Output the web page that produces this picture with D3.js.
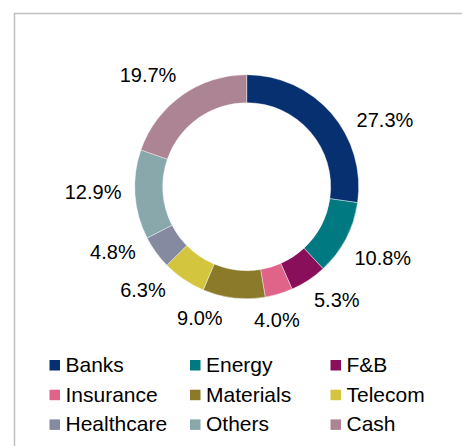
<!DOCTYPE html>
<html>
<head>
<meta charset="utf-8">
<script src="https://cdn.jsdelivr.net/npm/d3@7"></script>
<style>
html,body{margin:0;padding:0;background:#fff;}
svg{display:block;}
text{font-family:"Liberation Sans",Arial,sans-serif;fill:#000;}
</style>
</head>
<body>
<svg id="chart" width="462" height="446"></svg>
<script>
// ---- data ----
const categories = ["Banks","Energy","F&B","Insurance","Materials","Telecom","Healthcare","Others","Cash"];
const values = [27.3, 10.8, 5.3, 4.0, 9.0, 6.3, 4.8, 12.9, 19.7];
const colors = ["#073070","#007A80","#8A0F5A","#E0648A","#8A7A2A","#D4C53F","#868AA0","#88A8AC","#AC8494"];
// label angle adjustments (degrees) relative to slice middle
const labelShift = [15, 0, -5, 4, 13, 11, 10, 2, -6];

const W = 462, H = 446;
const cx = 246.7, cy = 186.7, rOuter = 112, rInner = 84;
const svg = d3.select("#chart");

// frame
svg.append("path")
  .attr("d", `M14.5,${H} V13.5 H${W}`)
  .attr("fill","none").attr("stroke","#c0c0c0").attr("stroke-width",1.5);

const pie = d3.pie().sort(null).value(d => d.v);
const data = categories.map((c,i)=>({c, v: values[i], col: colors[i], shift: labelShift[i]}));
const arcs = pie(data);
const arc = d3.arc().innerRadius(rInner).outerRadius(rOuter);

const g = svg.append("g").attr("transform", `translate(${cx},${cy})`);
g.selectAll("path.slice").data(arcs).enter().append("path")
  .attr("class","slice")
  .attr("d", arc)
  .attr("fill", d => d.data.col)
  .attr("stroke","#fff").attr("stroke-width",0.4);

// labels: placed outside with box-aware offset
const fmt = d3.format(".1f");
const labelR = 125;
const lbl = g.selectAll("text.lbl").data(arcs).enter().append("text")
  .attr("class","lbl")
  .attr("font-size", 20)
  .attr("text-anchor","middle")
  .text(d => fmt(d.data.v) + "%");
lbl.each(function(d){
  const bb = this.getBBox();
  const w = bb.width, h = 14.3;
  const a = (d.startAngle + d.endAngle)/2 + d.data.shift*Math.PI/180;
  const ux = Math.sin(a), uy = -Math.cos(a);
  const dist = labelR + Math.abs(ux)*w/2 + Math.abs(uy)*h/2;
  d3.select(this).attr("x", ux*dist).attr("y", uy*dist + h/2);
});

// legend
const legX = d3.scaleOrdinal().domain([0,1,2]).range([49.5, 190, 330.5]);
const legY = d3.scaleOrdinal().domain([0,1,2]).range([360, 389.7, 419.4]);
const leg = svg.append("g").selectAll("g").data(data).enter().append("g")
  .attr("transform",(d,i)=>`translate(${legX(i%3)},${legY(Math.floor(i/3))})`);
leg.append("rect").attr("width",10.5).attr("height",10.5).attr("fill",d=>d.col);
leg.append("text").attr("x",16).attr("y",11.8).attr("font-size",21).text(d=>d.c);
</script>
</body>
</html>
